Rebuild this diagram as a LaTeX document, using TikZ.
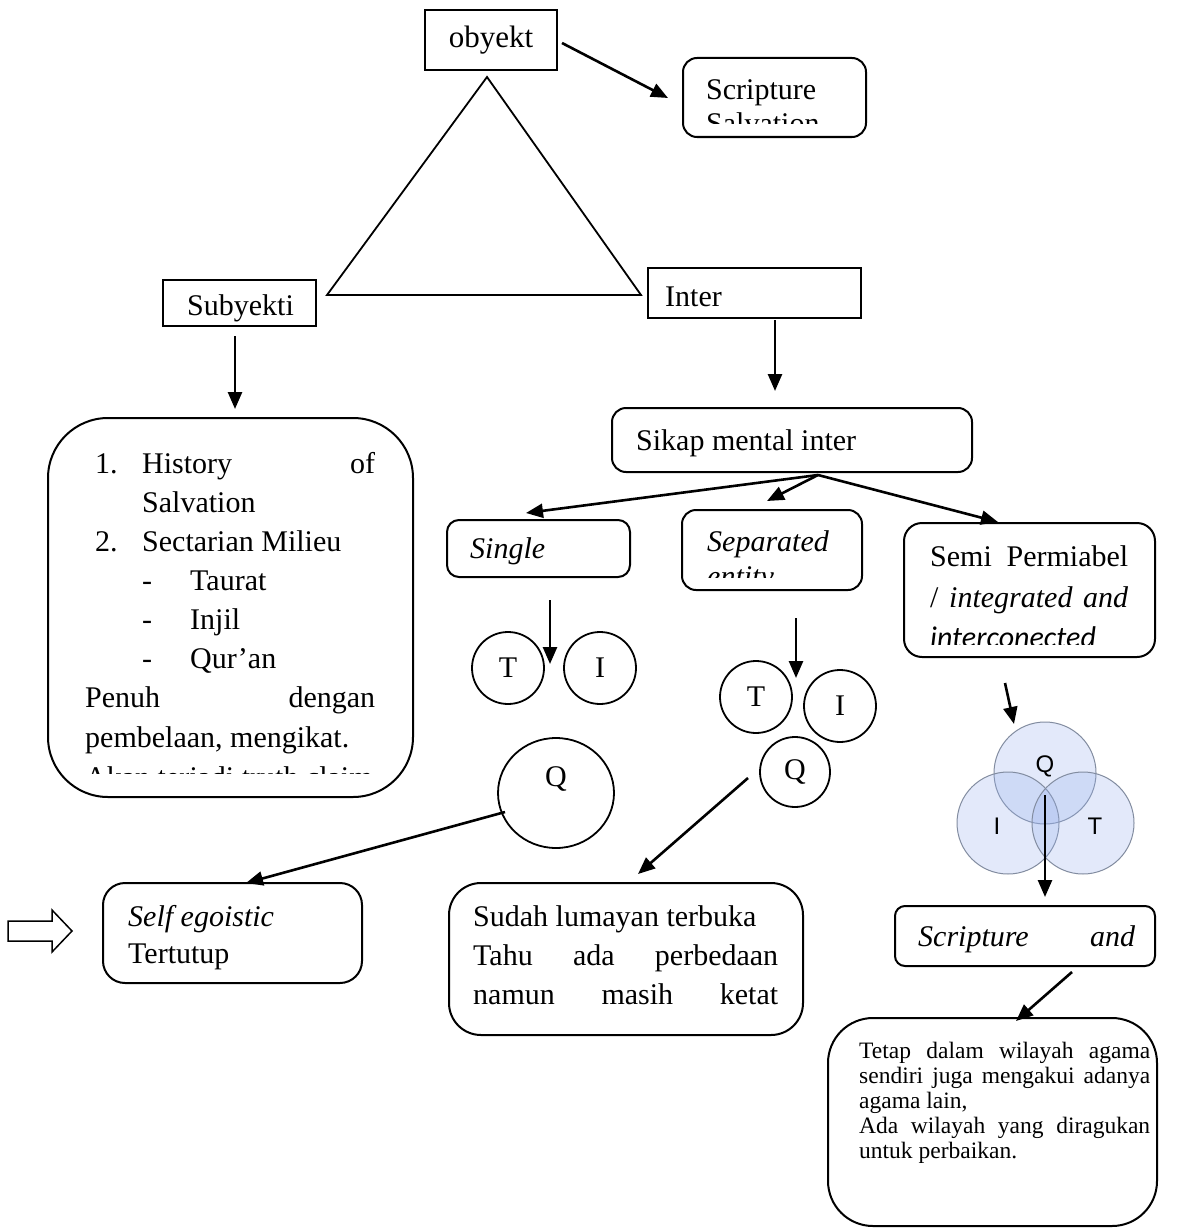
\documentclass[tikz,border=0pt]{standalone}
\usepackage{fontspec}
\setmainfont{Liberation Serif}
\newfontfamily\carl{Carlito}
\newfontfamily\lsans{Liberation Sans}
\usetikzlibrary{arrows.meta,shapes.geometric}
\begin{document}
\begin{tikzpicture}[x=1pt,y=-1pt,
  sbox/.style={draw, line width=2pt, inner sep=0pt, minimum width=#1},
  rbox/.style={draw, line width=2pt, inner sep=0pt, rounded corners=#1},
  arr/.style={line width=2.6pt, -{Triangle[length=17pt,width=14pt]}},
  txt/.style={inner sep=0pt, anchor=base west, font=\fontsize{30}{36}\selectfont},
  stxt/.style={inner sep=0pt, anchor=base west, font=\fontsize{23.5}{25}\selectfont},
  circ/.style={draw, line width=1.8pt, circle, inner sep=0pt, font=\fontsize{30}{36}\selectfont},
  venn/.style={circle, minimum size=102pt, draw={rgb,255:red,130;green,140;blue,160}, line width=1pt,
               fill={rgb,255:red,150;green,175;blue,235}, fill opacity=0.27, inner sep=0pt},
  vtxt/.style={inner sep=0pt, font=\lsans\fontsize{24}{28}\selectfont}
]
\useasboundingbox (0,0) rectangle (1188,1228);

% ---------- top ----------
\node[sbox=132pt, minimum height=60pt, font=\fontsize{31}{36}\selectfont] (obj) at (491,40) {obyekt};
\node[rbox=14pt, minimum width=183pt, minimum height=79pt] (scr) at (774.5,97.5) {};
\node[txt] (scr1) at (706,100) {Scripture};
\begin{scope}
  \clip (683,58) rectangle (866,124);
  \node[txt] (scr2) at (706,134) {Salvation};
\end{scope}

\coordinate (ta) at (487,77);
\coordinate (tl) at (327,295);
\coordinate (tr) at (641,295);
\draw[line width=1.8pt, line join=miter] (ta) -- (tl) -- (tr) -- cycle;

\node[sbox=153pt, minimum height=46pt] (sub) at (239.5,303) {};
\node[txt] (subt) at (187,315) {Subyekti};
\node[sbox=213pt, minimum height=50pt] (inter) at (754.5,293) {};
\node[txt] (intert) at (665,306) {Inter};

% ---------- left box ----------
\node[rbox=60pt, minimum width=365pt, minimum height=379pt] (left) at (230.5,607.5) {};
\node[txt] (l1a) at (95,473) {1.};
\node[txt] (l1b) at (142,473) {\hbox to 233pt{History\hfill of}};
\node[txt] (l2)  at (142,512) {Salvation};
\node[txt] (l3a) at (95,551) {2.};
\node[txt] (l3b) at (142,551) {Sectarian Milieu};
\node[txt] (l4a) at (142,590) {-};
\node[txt] (l4b) at (190,590) {Taurat};
\node[txt] (l5a) at (142,629) {-};
\node[txt] (l5b) at (190,629) {Injil};
\node[txt] (l6a) at (142,668) {-};
\node[txt] (l6b) at (190,668) {Qur’an};
\node[txt] (l7)  at (85,707) {\hbox to 290pt{Penuh\hfill dengan}};
\node[txt] (l8)  at (85,747) {pembelaan, mengikat.};
\begin{scope}
  \clip (60,700) rectangle (400,773);
  \node[txt] (l9) at (85,787) {Akan terjadi truth claim};
\end{scope}

% ---------- sikap mental ----------
\node[rbox=14pt, minimum width=360pt, minimum height=64pt] (sikap) at (792,440) {};
\node[txt] (sikapt) at (636,450) {Sikap mental inter};

\node[rbox=12pt, minimum width=183pt, minimum height=57pt] (single) at (538.5,548.5) {};
\node[txt, font=\fontsize{30}{36}\selectfont\itshape] (singlet) at (470,558) {Single};

\node[rbox=14pt, minimum width=180pt, minimum height=80pt] (sep) at (772,550) {};
\node[txt, font=\fontsize{30}{36}\selectfont\itshape] (sept1) at (707,551) {Separated};
\begin{scope}
  \clip (690,520) rectangle (855,577);
  \node[txt, font=\fontsize{30}{36}\selectfont\itshape] (sept2) at (707,586) {entity};
\end{scope}

\node[rbox=18pt, minimum width=251pt, minimum height=134pt] (semi) at (1029.5,590) {};
\node[txt] (semi1) at (930,566) {\hbox to 198pt{Semi\hfill Permiabel}};
\node[txt] (semi2) at (930,607) {\hbox to 198pt{/\hfill\itshape integrated\hfill and}};
\begin{scope}
  \clip (910,620) rectangle (1150,644);
  \node[txt, font=\carl\fontsize{30}{36}\selectfont\itshape] (semi3) at (930,647) {interconected};
\end{scope}

% ---------- circles ----------
\node[circ, minimum size=72pt] (t1) at (508,668) {T};
\node[circ, minimum size=72pt] (i1) at (600,668) {I};
\node[draw, line width=1.8pt, ellipse, minimum width=116pt, minimum height=110pt, inner sep=0pt] (q1) at (556,793) {};
\node[inner sep=0pt, font=\fontsize{30}{36}\selectfont] (q1t) at (556,779) {Q};

\node[circ, minimum size=72pt] (t2) at (756,697) {T};
\node[circ, minimum size=72pt] (i2) at (840,706) {I};
\node[circ, minimum size=70pt] (q2) at (795,772) {Q};

% ---------- venn ----------
\node[venn] (vq) at (1045,773) {};
\node[venn] (vi) at (1008,823) {};
\node[venn] (vt) at (1083,823) {};
\node[vtxt] (vqt) at (1045,766) {Q};
\node[vtxt] (vit) at (997,826) {I};
\node[vtxt] (vtt) at (1095,826) {T};

% ---------- lower boxes ----------
\node[rbox=10pt, minimum width=260pt, minimum height=60pt] (sa) at (1025,936) {};
\node[txt] (sat) at (918,946) {\hbox to 217pt{\itshape Scripture\hfill and}};

\node[rbox=45pt, minimum width=329pt, minimum height=208pt] (br) at (992.5,1122) {};
\node[stxt] (br1) at (859,1058) {\hbox to 291pt{Tetap\hfill dalam\hfill wilayah\hfill agama}};
\node[stxt] (br2) at (859,1083) {\hbox to 291pt{sendiri\hfill juga\hfill mengakui\hfill adanya}};
\node[stxt] (br3) at (859,1108) {agama lain,};
\node[stxt] (br4) at (859,1133) {\hbox to 291pt{Ada\hfill wilayah\hfill yang\hfill diragukan}};
\node[stxt] (br5) at (859,1158) {untuk perbaikan.};

\node[rbox=22pt, minimum width=259pt, minimum height=100pt] (self) at (232.5,933) {};
\node[txt, font=\fontsize{30}{36}\selectfont\itshape] (self1) at (128,926) {Self egoistic};
\node[txt] (self2) at (128,963) {Tertutup};

\node[rbox=32pt, minimum width=354pt, minimum height=152pt] (sudah) at (626,959) {};
\node[txt] (sud1) at (473,926) {Sudah lumayan terbuka};
\node[txt] (sud2) at (473,965) {\hbox to 305pt{Tahu\hfill ada\hfill perbedaan}};
\node[txt] (sud3) at (473,1004) {\hbox to 305pt{namun\hfill masih\hfill ketat}};

% hollow arrow
\draw[line width=1.5pt, line join=miter] (8,921) -- (52,921) -- (52,910) -- (72,931) -- (52,952) -- (52,941) -- (8,941) -- cycle;

% ---------- connectors ----------
\coordinate (a1s) at (562,43);   \coordinate (a1e) at (668,98);
\coordinate (a2s) at (235,336);  \coordinate (a2e) at (235,409);
\coordinate (a3s) at (775,320);  \coordinate (a3e) at (775,391);
\coordinate (so)  at (818,475);
\coordinate (a4e) at (526,513);
\coordinate (a5e) at (767,501);
\coordinate (a6e) at (998,522);
\coordinate (a7s) at (550,600);  \coordinate (a7e) at (550,664);
\coordinate (a8s) at (796,618);  \coordinate (a8e) at (796,678);
\coordinate (a9s) at (1005,683); \coordinate (a9e) at (1014,724);
\coordinate (a10s) at (1045,795); \coordinate (a10e) at (1045,897);
\coordinate (a11s) at (1072,972); \coordinate (a11e) at (1016,1021);
\coordinate (a12s) at (505,812);  \coordinate (a12e) at (246,883);
\coordinate (a13s) at (748,778);  \coordinate (a13e) at (638,874);

\draw[arr] (a1s) -- (a1e);
\draw[arr] (a2s) -- (a2e);
\draw[arr] (a3s) -- (a3e);
\draw[arr] (so) -- (a4e);
\draw[arr] (so) -- (a5e);
\draw[arr] (so) -- (a6e);
\draw[arr] (a7s) -- (a7e);
\draw[arr] (a8s) -- (a8e);
\draw[arr] (a9s) -- (a9e);
\draw[arr] (a10s) -- (a10e);
\draw[arr] (a11s) -- (a11e);
\draw[arr] (a12s) -- (a12e);
\draw[arr] (a13s) -- (a13e);
\end{tikzpicture}
\end{document}
